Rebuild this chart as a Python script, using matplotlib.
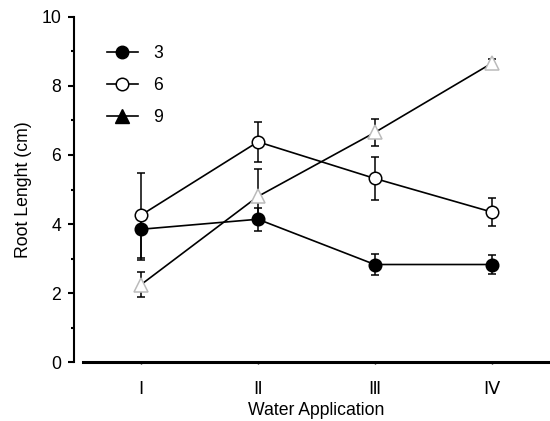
import matplotlib
matplotlib.use("Agg")
import matplotlib.pyplot as plt
from matplotlib.lines import Line2D

plt.rcParams['font.family'] = ['Liberation Sans', 'DejaVu Sans']
plt.rcParams['font.size'] = 12.7

water = [1, 2, 3, 4]
waterLabels = ["\u2160", "\u2161", "\u2162", "\u2163"]

# root length (cm) and lower / upper error per series
mean3 = [3.85, 4.14, 2.83, 2.83]
err3Low = [0.88, 0.33, 0.31, 0.27]
err3High = [0.3, 0.33, 0.31, 0.27]
mean6 = [4.26, 6.38, 5.32, 4.35]
err6Low = [1.24, 0.58, 0.62, 0.41]
err6High = [1.22, 0.58, 0.62, 0.41]
mean9 = [2.25, 4.80, 6.65, 8.65]
err9Low = [0.37, 0.78, 0.39, 0.12]
err9High = [0.37, 0.78, 0.39, 0.12]

fig = plt.figure(figsize=(5.5, 4.21), dpi=100)
ax = fig.add_axes([0.1504, 0.1394, 0.8496, 0.8209])

common = dict(color="black", linewidth=1.2, elinewidth=1.1, capsize=2.8,
              capthick=1.1, markeredgewidth=1.1)
ax.errorbar(water, mean3, yerr=[err3Low, err3High], fmt="-o", markersize=9,
            markerfacecolor="black", markeredgecolor="black", zorder=3, **common)
ax.errorbar(water, mean6, yerr=[err6Low, err6High], fmt="-o", markersize=9,
            markerfacecolor="white", markeredgecolor="black", zorder=4, **common)
ax.errorbar(water, mean9, yerr=[err9Low, err9High], fmt="-^", markersize=10,
            markerfacecolor="white", markeredgecolor="#bbbbbb", zorder=5, **common)

ax.set_xlim(0.5, 4.5)
ax.set_ylim(0, 10)
ax.set_xticks(water)
ax.set_xticklabels(waterLabels)
ax.set_yticks([0, 2, 4, 6, 8, 10])
ax.set_yticks([1, 3, 5, 7, 9], minor=True)

ax.spines["top"].set_visible(False)
ax.spines["right"].set_visible(False)
ax.spines["left"].set_position(("outward", 6))
ax.spines["left"].set_linewidth(1.5)
ax.spines["bottom"].set_linewidth(2.2)
ax.tick_params(axis="y", which="major", length=4.5, width=1.5, pad=5)
ax.tick_params(axis="y", which="minor", length=2.2, width=1.5)
ax.tick_params(axis="x", length=1.2, width=1, pad=12)

ax.set_xlabel("Water Application", labelpad=3)
ax.set_ylabel("Root Lenght (cm)", labelpad=7)

handles = [
    Line2D([], [], color="black", lw=1.2, marker="o", markersize=9,
           markerfacecolor="black", markeredgecolor="black"),
    Line2D([], [], color="black", lw=1.2, marker="o", markersize=9,
           markerfacecolor="white", markeredgecolor="black", markeredgewidth=1.1),
    Line2D([], [], color="black", lw=1.2, marker="^", markersize=10,
           markerfacecolor="black", markeredgecolor="black"),
]
fig.legend(handles, ["3", "6", "9"], loc="upper left",
           bbox_to_anchor=(107 / 550, 1 - 45 / 421), frameon=False,
           borderpad=0, borderaxespad=0, handlelength=1.75,
           handletextpad=0.85, labelspacing=0.86)

fig.savefig("out.png", dpi=100)
